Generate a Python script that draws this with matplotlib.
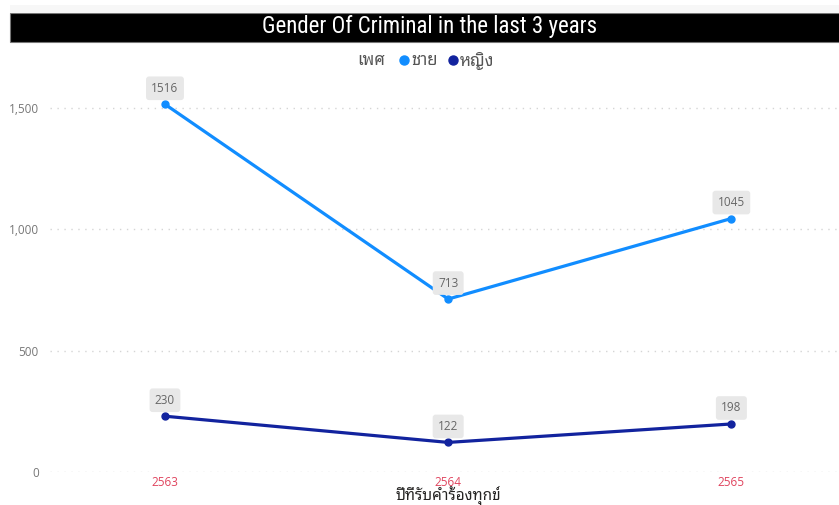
import matplotlib
matplotlib.use("Agg")
import matplotlib.pyplot as plt
from matplotlib.lines import Line2D
from matplotlib.patches import Rectangle

years = ["2563", "2564", "2565"]
male = [1516, 713, 1045]
female = [230, 122, 198]
series_names = ["ชาย", "หญิง"]
y_ticks = [0, 500, 1000, 1500]

THAI = ["Noto Sans Thai Looped", "DejaVu Sans"]
UI = ["Open Sans", "DejaVu Sans"]
BLUE = "#118DFF"
NAVY = "#12239E"

W, H = 839, 505
fig = plt.figure(figsize=(W / 100, H / 100), dpi=100)

# title band
fig.patches.append(Rectangle((10 / W, 1 - 42 / H), 1, 29 / H, transform=fig.transFigure,
                             facecolor="black", edgecolor="#777777", linewidth=0.8))
fig.patches.append(Rectangle((10 / W, 1 - 13 / H), 1, 8 / H, transform=fig.transFigure,
                             facecolor="#f7f7f7", edgecolor="none"))
fig.text(430 / W, 1 - 27 / H, "Gender Of Criminal in the last 3 years", ha="center", va="center",
         color="white", fontsize=16.5, family=["Roboto Condensed", "Open Sans", "DejaVu Sans"])

# legend
ly = 1 - 61 / H
fig.text(357 / W, ly, "เพศ", ha="left", va="center", fontsize=12, color="#555555",
         fontweight="bold", family=THAI)
for cx, tx, name, c in [(404, 411, series_names[0], BLUE), (453, 460, series_names[1], NAVY)]:
    fig.lines.append(Line2D([cx / W], [ly + 1 / H], marker="o", markersize=6.5, color=c,
                            transform=fig.transFigure))
    fig.text(tx / W, ly, name, ha="left", va="center", fontsize=12, color="#555555", family=THAI)

# axes: left 50px, right 839px, bottom at y=472, top at y=80
ax = fig.add_axes([50 / W, 1 - 472 / H, (W - 50) / W, (472 - 80) / H])
x = list(range(len(years)))
ax.plot(x, male, color=BLUE, linewidth=2.3, marker="o", markersize=5, solid_capstyle="round")
ax.plot(x, female, color=NAVY, linewidth=2.3, marker="o", markersize=5, solid_capstyle="round")

ax.set_xlim(-0.406, 2.38)
ax.set_ylim(0, 1616)
ax.set_yticks(y_ticks)
ax.set_yticklabels([f"{v:,}" for v in y_ticks], color="#777777", fontsize=8.5, family=UI)
ax.set_xticks(x)
ax.set_xticklabels(years, color="#E0445E", fontsize=8.5, family=UI)
ax.tick_params(length=0, pad=3)
ax.tick_params(axis="y", pad=8)
ax.grid(axis="y", color="#d5d5d5", linestyle=(0, (1, 4)), linewidth=1)
ax.set_axisbelow(True)
for s in ax.spines.values():
    s.set_visible(False)
fig.text(448 / W, 1 - 500 / H, "ปีที่รับคำร้องทุกข์", ha="center", va="baseline", fontsize=11,
         color="#252423", family=THAI)

for series in (male, female):
    for xi, v in zip(x, series):
        ax.annotate(str(v), (xi, v), xytext=(0, 11.5), textcoords="offset points", ha="center",
                    va="center", fontsize=8.5, color="#666666", family=UI,
                    bbox=dict(boxstyle="round,pad=0.45,rounding_size=0.25", facecolor="#e8e8e8",
                              edgecolor="none"))

fig.savefig("out.png", dpi=100, facecolor="white")
